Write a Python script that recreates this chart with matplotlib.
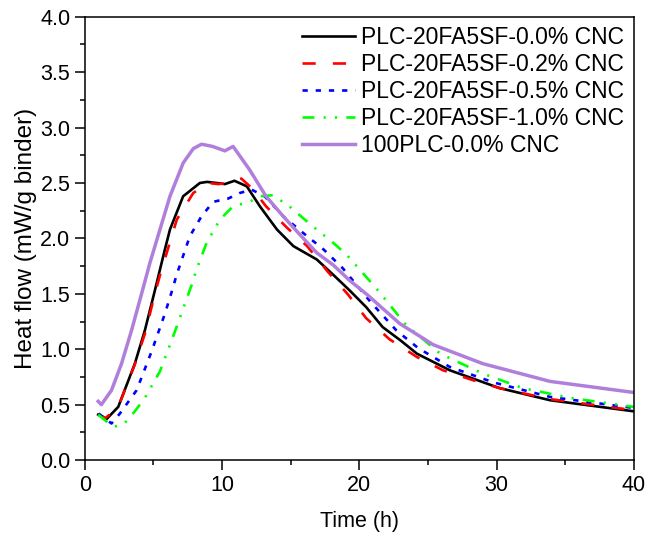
import numpy as np
import matplotlib
matplotlib.use("Agg")
import matplotlib.pyplot as plt
from matplotlib.ticker import MultipleLocator

plt.rcParams['font.family'] = ['Liberation Sans', 'DejaVu Sans']

# Heat flow curves (time in h, heat flow in mW/g binder)
t_00 = [0.97, 1.58, 2.43, 3.64, 4.37, 5.1, 5.83, 6.2, 7.16, 8.38, 8.9, 9.6, 10.2, 10.9,
        11.8, 12.75, 14.0, 15.2, 16.9, 18.2, 19.3, 20.5, 21.7, 23.0, 24.2, 26.6,
        30.2, 33.9, 40]
y_00 = [0.41, 0.37, 0.48, 0.87, 1.17, 1.53, 1.9, 2.08, 2.38, 2.5, 2.51, 2.5, 2.49, 2.52,
        2.47, 2.29, 2.08, 1.93, 1.81, 1.66, 1.53, 1.38, 1.2, 1.08, 0.96, 0.81,
        0.65, 0.54, 0.44]

t_02 = [0.97, 1.5, 2.4, 3.6, 4.4, 5.1, 5.5, 6.7, 7.9, 9.0, 9.7, 10.5, 11.4, 12.2, 13.2,
        14.7, 16.2, 17.7, 19.2, 20.5, 22.2, 24.2, 26.1, 28.3, 30.2, 33.9, 40]
y_02 = [0.41, 0.38, 0.47, 0.85, 1.15, 1.5, 1.68, 2.17, 2.41, 2.5, 2.49, 2.5, 2.54, 2.45,
        2.29, 2.1, 1.93, 1.70, 1.49, 1.28, 1.09, 0.93, 0.81, 0.72, 0.65, 0.55, 0.45]

t_05 = [1.0, 1.94, 2.55, 3.77, 4.86, 5.83, 6.43, 6.68, 7.65, 8.5, 9.35, 10.45, 11.3,
        12.15, 13.1, 14.45, 15.9, 17.4, 18.8, 20.8, 22.7, 24.3, 26.6, 29.8, 33.9, 40]
y_05 = [0.42, 0.33, 0.42, 0.63, 0.98, 1.32, 1.56, 1.67, 2.02, 2.2, 2.33, 2.36, 2.41,
        2.44, 2.38, 2.2, 2.05, 1.9, 1.73, 1.43, 1.17, 1.01, 0.84, 0.70, 0.57, 0.47]

t_10 = [0.97, 2.06, 2.8, 3.64, 4.37, 5.47, 6.2, 6.68, 7.29, 7.78, 8.14, 8.87, 9.84, 10.8,
        12.0, 12.75, 13.7, 14.9, 16.4, 18.1, 19.1, 21.3, 23.4, 25.9, 29.0, 31.9, 35.4, 40]
y_10 = [0.41, 0.30, 0.32, 0.44, 0.56, 0.8, 1.04, 1.2, 1.41, 1.58, 1.72, 1.96, 2.17, 2.29,
        2.33, 2.38, 2.39, 2.29, 2.13, 1.96, 1.85, 1.54, 1.22, 0.96, 0.78, 0.65, 0.56, 0.48]

t_plc = [0.97, 1.2, 1.94, 2.67, 3.4, 4.13, 4.74, 5.47, 6.2, 7.16, 7.9, 8.5, 9.3, 10.2,
         10.8, 12.0, 13.2, 14.45, 15.7, 16.9, 18.1, 19.3, 20.5, 22.96, 25.4, 29.0, 33.9, 40]
y_plc = [0.53, 0.50, 0.63, 0.87, 1.17, 1.5, 1.78, 2.08, 2.38, 2.68, 2.81, 2.85, 2.83, 2.79,
         2.83, 2.62, 2.38, 2.2, 2.03, 1.87, 1.76, 1.62, 1.5, 1.23, 1.04, 0.87, 0.71, 0.61]

labels = ["PLC-20FA5SF-0.0% CNC", "PLC-20FA5SF-0.2% CNC", "PLC-20FA5SF-0.5% CNC",
          "PLC-20FA5SF-1.0% CNC", "100PLC-0.0% CNC"]

fig = plt.figure(figsize=(6.48, 5.4), dpi=100)
ax = fig.add_axes([0.131, 0.148, 0.847, 0.821])

ax.plot(t_00, y_00, color="black", lw=1.9, label=labels[0])
ax.plot(t_02, y_02, color="#FF0000", lw=1.9, dashes=(5, 6.5), label=labels[1])
ax.plot(t_05, y_05, color="#0000FF", lw=1.9, dashes=(2, 3), label=labels[2])
ax.plot(t_10, y_10, color="#00FF00", lw=1.9, dashes=(4.5, 3.5, 0.8, 3.5, 0.8, 3.5), label=labels[3])
ax.plot(t_plc, y_plc, color="#B07FDB", lw=2.5, label=labels[4])

ax.set_xlim(0, 40)
ax.set_ylim(0, 4.0)
ax.xaxis.set_major_locator(MultipleLocator(10))
ax.xaxis.set_minor_locator(MultipleLocator(5))
ax.yaxis.set_major_locator(MultipleLocator(0.5))
ax.yaxis.set_minor_locator(MultipleLocator(0.25))
ax.yaxis.set_major_formatter(plt.FormatStrFormatter('%.1f'))
ax.tick_params(which='both', direction='out', top=False, right=False, labelsize=15.5, width=1.1)
ax.tick_params(which='major', length=7)
ax.tick_params(which='minor', length=3.5)
for sp in ax.spines.values():
    sp.set_linewidth(1.1)

ax.set_xlabel("Time (h)", fontsize=15.5, labelpad=11)
ax.set_ylabel("Heat flow (mW/g binder)", fontsize=17.5, labelpad=2)

ax.legend(loc="upper right", frameon=False, fontsize=16.5, handlelength=2.3,
          handletextpad=0.28, labelspacing=0.17, borderaxespad=0.12, borderpad=0.3)

fig.savefig("out.png", dpi=100)
